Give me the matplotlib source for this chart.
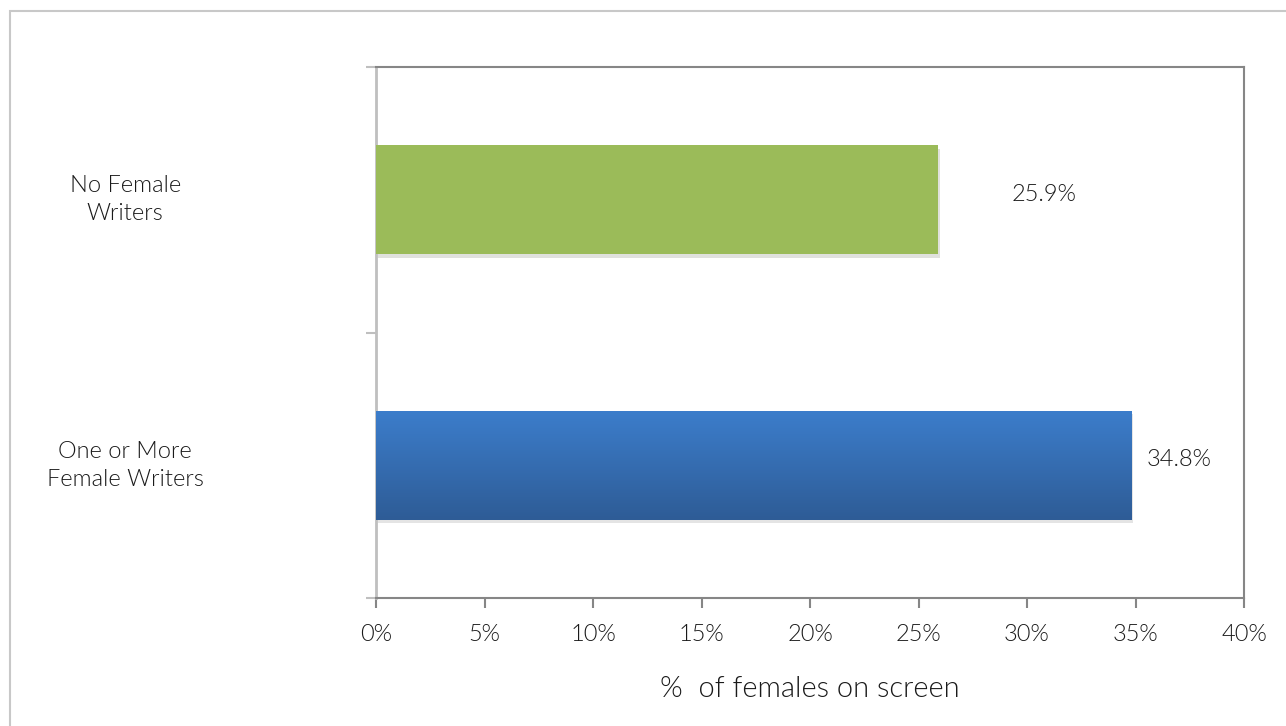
import numpy as np
import matplotlib.pyplot as plt
import matplotlib.patheffects as pe
from matplotlib.patches import Rectangle
from matplotlib.colors import LinearSegmentedColormap

# --------- data ---------
categories = ['One or More\nFemale Writers', 'No Female\nWriters']
values = [34.8, 25.9]
labels = ['34.8%', '25.9%']
label_offsets = [0.7, 3.4]
xticks = [0, 5, 10, 15, 20, 25, 30, 35, 40]

# --------- style ---------
plt.rcParams['font.family'] = ['Lato', 'DejaVu Sans']
plt.rcParams['font.weight'] = 300
textcol = '#1a1a1a'
darkgray = '#868686'
lightgray = '#bfbfbf'
green = '#9bbb59'
fsize = 17

fig = plt.figure(figsize=(12.86, 7.26), dpi=100)

# outer chart frame
fig.patches.append(Rectangle((10 / 1286, -0.1), 1.2, 1 - 11 / 726 + 0.1,
                             transform=fig.transFigure, fill=False,
                             edgecolor='#c8c8c8', lw=1.5))

ax = fig.add_axes([376 / 1286, 1 - 598 / 726, 868 / 1286, 531 / 726])

ypos = np.arange(len(categories))
bars = ax.barh(ypos, values, height=0.41, color=['none', green],
               edgecolor='none', zorder=3,
               path_effects=[pe.SimplePatchShadow(offset=(1.5, -2.5), alpha=0.15),
                             pe.Normal()])

# gradient fill for the blue bar
blue_cmap = LinearSegmentedColormap.from_list('bl', ['#2e5c96', '#3c7dcb'])
b = bars[0]
grad = np.linspace(0, 1, 256).reshape(-1, 1)
im = ax.imshow(grad, cmap=blue_cmap, aspect='auto', origin='lower', zorder=4,
               extent=[b.get_x(), b.get_x() + b.get_width(),
                       b.get_y(), b.get_y() + b.get_height()])
im.set_clip_path(b)

for i, v in enumerate(values):
    ax.text(v + label_offsets[i], ypos[i] + 0.02, labels[i], va='center',
            ha='left', fontsize=fsize, color=textcol)

ax.set_xlim(0, 40)
ax.set_ylim(-0.5, 1.5)
ax.set_xticks(xticks)
ax.set_xticklabels([f'{t}%' for t in xticks])
ax.set_yticks([-0.5, 0.5, 1.5])
ax.set_yticklabels([])
ax.tick_params(axis='x', direction='out', length=7, width=1.5, colors=darkgray,
               labelcolor=textcol, labelsize=fsize, pad=12)
ax.tick_params(axis='y', direction='out', length=7, width=1.5, colors=lightgray)

for i, c in enumerate(categories):
    ax.text(-0.289, ypos[i], c, transform=ax.get_yaxis_transform(),
            ha='center', va='center', fontsize=fsize, color=textcol,
            linespacing=1.4)

for s in ['top', 'right', 'bottom']:
    ax.spines[s].set_color(darkgray)
    ax.spines[s].set_linewidth(1.5)
ax.spines['left'].set_color(lightgray)
ax.spines['left'].set_linewidth(2)

ax.set_xlabel('%  of females on screen', fontsize=21, fontweight=300,
              color=textcol, labelpad=22)

fig.savefig('out.png', dpi=100)
